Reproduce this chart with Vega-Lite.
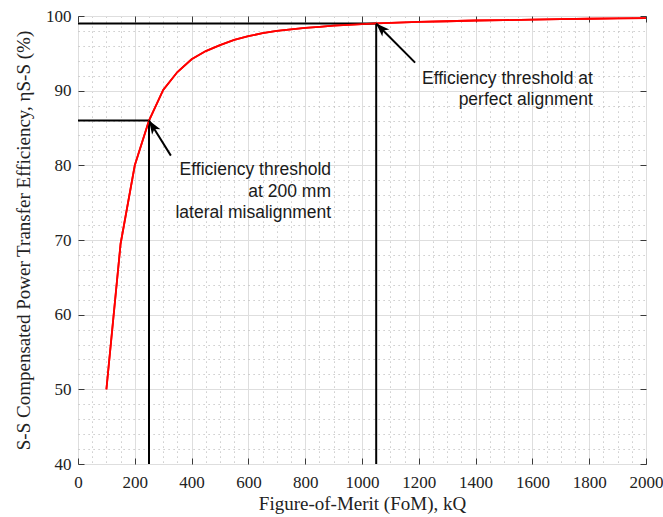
{
  "$schema": "https://vega.github.io/schema/vega-lite/v6.json",
  "width": 568,
  "height": 448,
  "autosize": {"type": "none"},
  "padding": {"left": 78, "top": 16, "right": 17, "bottom": 53},
  "background": "white",
  "config": {
    "view": {"stroke": "#3a3a3a", "strokeWidth": 1},
    "axis": {"labelFont": "Liberation Serif", "titleFont": "Liberation Serif"}
  },
  "datasets": {
    "curve": [
      {"fom": 100, "eff": 50},
      {"fom": 150, "eff": 69.5},
      {"fom": 200, "eff": 80},
      {"fom": 250, "eff": 86},
      {"fom": 300, "eff": 90.1},
      {"fom": 350, "eff": 92.5},
      {"fom": 400, "eff": 94.2},
      {"fom": 450, "eff": 95.3},
      {"fom": 500, "eff": 96.1},
      {"fom": 550, "eff": 96.8},
      {"fom": 600, "eff": 97.3},
      {"fom": 650, "eff": 97.7},
      {"fom": 700, "eff": 98.0},
      {"fom": 750, "eff": 98.2},
      {"fom": 800, "eff": 98.4},
      {"fom": 850, "eff": 98.55},
      {"fom": 900, "eff": 98.7},
      {"fom": 950, "eff": 98.8},
      {"fom": 1000, "eff": 98.9},
      {"fom": 1050, "eff": 99.0},
      {"fom": 1100, "eff": 99.07},
      {"fom": 1200, "eff": 99.2},
      {"fom": 1300, "eff": 99.3},
      {"fom": 1400, "eff": 99.4},
      {"fom": 1500, "eff": 99.45},
      {"fom": 1600, "eff": 99.52},
      {"fom": 1700, "eff": 99.58},
      {"fom": 1800, "eff": 99.63},
      {"fom": 1900, "eff": 99.68},
      {"fom": 2000, "eff": 99.72}
    ],
    "thresholds": [
      {"fom": 0, "fom2": 1050, "eff": 99, "eff2": 99},
      {"fom": 1050, "fom2": 1050, "eff": 40, "eff2": 99},
      {"fom": 0, "fom2": 250, "eff": 86, "eff2": 86},
      {"fom": 250, "fom2": 250, "eff": 40, "eff2": 86}
    ],
    "arrows": [
      {"id": "misaligned", "fom": 327, "eff": 81.3, "fom2": 250, "eff2": 86},
      {"id": "aligned", "fom": 1187, "eff": 93.75, "fom2": 1050, "eff2": 99}
    ],
    "notes": [
      {"fom": 891, "eff": 80.58, "note": "Efficiency threshold\nat 200 mm\nlateral misalignment"},
      {"fom": 1813, "eff": 92.77, "note": "Efficiency threshold at\nperfect alignment"}
    ]
  },
  "resolve": {"axis": {"x": "independent", "y": "independent"}},
  "layer": [
    {
      "data": {"name": "curve"},
      "mark": {"type": "line", "color": "#ff0000", "strokeWidth": 1.8},
      "encoding": {
        "x": {
          "field": "fom", "type": "quantitative",
          "scale": {"domain": [0, 2000], "nice": false, "zero": false},
          "axis": {
            "orient": "bottom",
            "title": "Figure-of-Merit (FoM), kQ",
            "titleFontSize": 19, "titleFontWeight": "normal", "titleColor": "#222222", "titlePadding": 4,
            "values": [0,50,100,150,200,250,300,350,400,450,500,550,600,650,700,750,800,850,900,950,1000,1050,1100,1150,1200,1250,1300,1350,1400,1450,1500,1550,1600,1650,1700,1750,1800,1850,1900,1950,2000],
            "format": "d",
            "labelExpr": "datum.value % 200 === 0 ? datum.label : ''",
            "labelFontSize": 17, "labelColor": "#222222", "labelPadding": 16,
            "labelFlush": false, "labelOverlap": false, "labelBound": false,
            "grid": true,
            "gridColor": {"condition": {"test": "datum.value % 200 === 0", "value": "#dedede"}, "value": "#bdbdbd"},
            "gridDash": {"condition": {"test": "datum.value % 200 === 0", "value": []}, "value": [1.2, 3.8]},
            "gridWidth": 1,
            "ticks": true, "tickSize": -6, "tickColor": "#3a3a3a", "tickWidth": 1,
            "tickOpacity": {"condition": {"test": "datum.value % 200 === 0", "value": 1}, "value": 0},
            "domain": false
          }
        },
        "y": {
          "field": "eff", "type": "quantitative",
          "scale": {"domain": [40, 100], "nice": false, "zero": false},
          "axis": {
            "orient": "left",
            "title": "S-S Compensated Power Transfer Efficiency, ηS-S (%)",
            "titleFontSize": 19, "titleFontWeight": "normal", "titleColor": "#222222", "titlePadding": 12,
            "values": [40,42,44,46,48,50,52,54,56,58,60,62,64,66,68,70,72,74,76,78,80,82,84,86,88,90,92,94,96,98,100],
            "format": "d",
            "labelExpr": "datum.value % 10 === 0 ? datum.label : ''",
            "labelFontSize": 17, "labelColor": "#222222", "labelPadding": 13,
            "labelFlush": false, "labelOverlap": false, "labelBound": false,
            "grid": true,
            "gridColor": {"condition": {"test": "datum.value % 10 === 0", "value": "#dedede"}, "value": "#bdbdbd"},
            "gridDash": {"condition": {"test": "datum.value % 10 === 0", "value": []}, "value": [1.2, 3.8]},
            "gridWidth": 1,
            "ticks": true, "tickSize": -6, "tickColor": "#3a3a3a", "tickWidth": 1,
            "tickOpacity": {"condition": {"test": "datum.value % 10 === 0", "value": 1}, "value": 0},
            "domain": false
          }
        }
      }
    },
    {
      "data": {"name": "curve"},
      "mark": {"type": "line", "strokeOpacity": 0},
      "encoding": {
        "x": {
          "field": "fom", "type": "quantitative",
          "axis": {
            "orient": "top", "title": null,
            "values": [0,200,400,600,800,1000,1200,1400,1600,1800,2000],
            "labels": false, "grid": false, "domain": false,
            "ticks": true, "tickSize": -6, "tickColor": "#3a3a3a", "tickWidth": 1
          }
        },
        "y": {
          "field": "eff", "type": "quantitative",
          "axis": {
            "orient": "right", "title": null,
            "values": [40,50,60,70,80,90,100],
            "labels": false, "grid": false, "domain": false,
            "ticks": true, "tickSize": -6, "tickColor": "#3a3a3a", "tickWidth": 1
          }
        }
      }
    },
    {
      "data": {"name": "thresholds"},
      "mark": {"type": "rule", "color": "#000000", "strokeWidth": 2},
      "encoding": {
        "x": {"field": "fom", "type": "quantitative", "axis": null},
        "x2": {"field": "fom2"},
        "y": {"field": "eff", "type": "quantitative", "axis": null},
        "y2": {"field": "eff2"}
      }
    },
    {
      "data": {"name": "curve"},
      "mark": {"type": "line", "color": "#ff0000", "strokeWidth": 1.8},
      "encoding": {
        "x": {"field": "fom", "type": "quantitative", "axis": null},
        "y": {"field": "eff", "type": "quantitative", "axis": null}
      }
    },
    {
      "data": {"name": "arrows"},
      "mark": {"type": "rule", "color": "#000000", "strokeWidth": 2},
      "encoding": {
        "x": {"field": "fom", "type": "quantitative", "axis": null},
        "x2": {"field": "fom2"},
        "y": {"field": "eff", "type": "quantitative", "axis": null},
        "y2": {"field": "eff2"}
      }
    },
    {
      "data": {"name": "arrows"},
      "transform": [{"filter": "datum.id === 'misaligned'"}],
      "mark": {"type": "point", "shape": "M0,0L0.42,1.15L0,0.85L-0.42,1.15Z", "filled": true, "color": "#000000", "opacity": 1, "size": 560, "angle": 327.6, "strokeWidth": 0},
      "encoding": {
        "x": {"field": "fom2", "type": "quantitative", "axis": null},
        "y": {"field": "eff2", "type": "quantitative", "axis": null}
      }
    },
    {
      "data": {"name": "arrows"},
      "transform": [{"filter": "datum.id === 'aligned'"}],
      "mark": {"type": "point", "shape": "M0,0L0.42,1.15L0,0.85L-0.42,1.15Z", "filled": true, "color": "#000000", "opacity": 1, "size": 560, "angle": 315, "strokeWidth": 0},
      "encoding": {
        "x": {"field": "fom2", "type": "quantitative", "axis": null},
        "y": {"field": "eff2", "type": "quantitative", "axis": null}
      }
    },
    {
      "data": {"name": "notes"},
      "mark": {"type": "text", "font": "Liberation Sans", "fontSize": 17.5, "color": "#1a1a1a", "align": "right", "baseline": "top", "lineBreak": "\n", "lineHeight": 21.5},
      "encoding": {
        "x": {"field": "fom", "type": "quantitative", "axis": null},
        "y": {"field": "eff", "type": "quantitative", "axis": null},
        "text": {"field": "note"}
      }
    }
  ]
}
